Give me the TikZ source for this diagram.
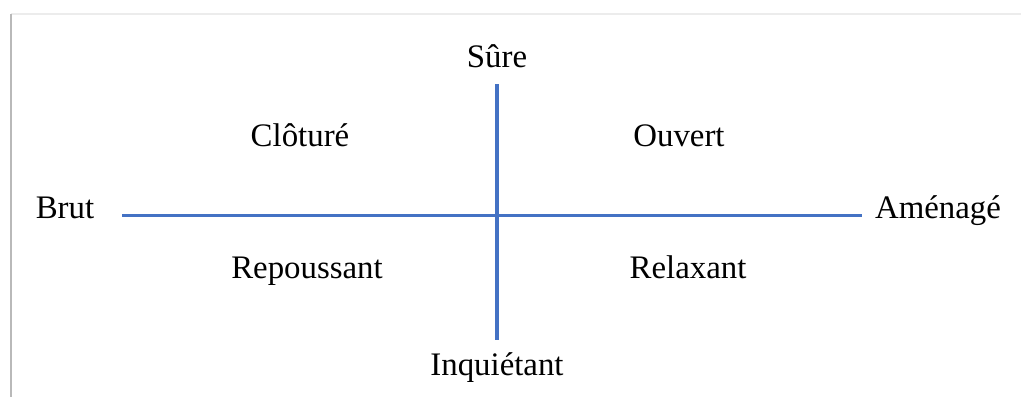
\documentclass[tikz,border=0pt]{standalone}
\usepackage{fontspec}
\setmainfont{Liberation Serif}
\definecolor{axisblue}{RGB}{68,114,196}
\tikzset{
	lbl/.style={font=\fontsize{18.7}{22}\selectfont, inner sep=0pt, anchor=base},
	axis/.style={line width=2pt, axisblue}
}
\begin{document}
\begin{tikzpicture}[x=0.02cm, y=-0.02cm]
		\useasboundingbox (0,0) rectangle (1021,397);
		% frame shadow
		\draw[gray!15, line width=1pt] (11,14) -- (1021,14);
		\draw[gray!55, line width=1.6pt] (11,14) -- (11,397);
		
		\coordinate (west) at (122,215.5);
		\coordinate (east) at (862,215.5);
		\coordinate (north) at (497,84);
		\coordinate (south) at (497,340);
		\draw[axis] (west) -- (east);
		\draw[axis] (north) -- (south);
		
		\node[lbl] (sure) at (497,67) {Sûre};
		\node[lbl] (inquietant) at (497,375) {Inquiétant};
		\node[lbl] (brut) at (65,218) {Brut};
		\node[lbl] (amenage) at (938,218) {Aménagé};
		\node[lbl] (cloture) at (300,146) {Clôturé};
		\node[lbl] (ouvert) at (679,146) {Ouvert};
		\node[lbl] (repoussant) at (307,278) {Repoussant};
		\node[lbl] (relaxant) at (688,278) {Relaxant};
	\end{tikzpicture}
\end{document}
